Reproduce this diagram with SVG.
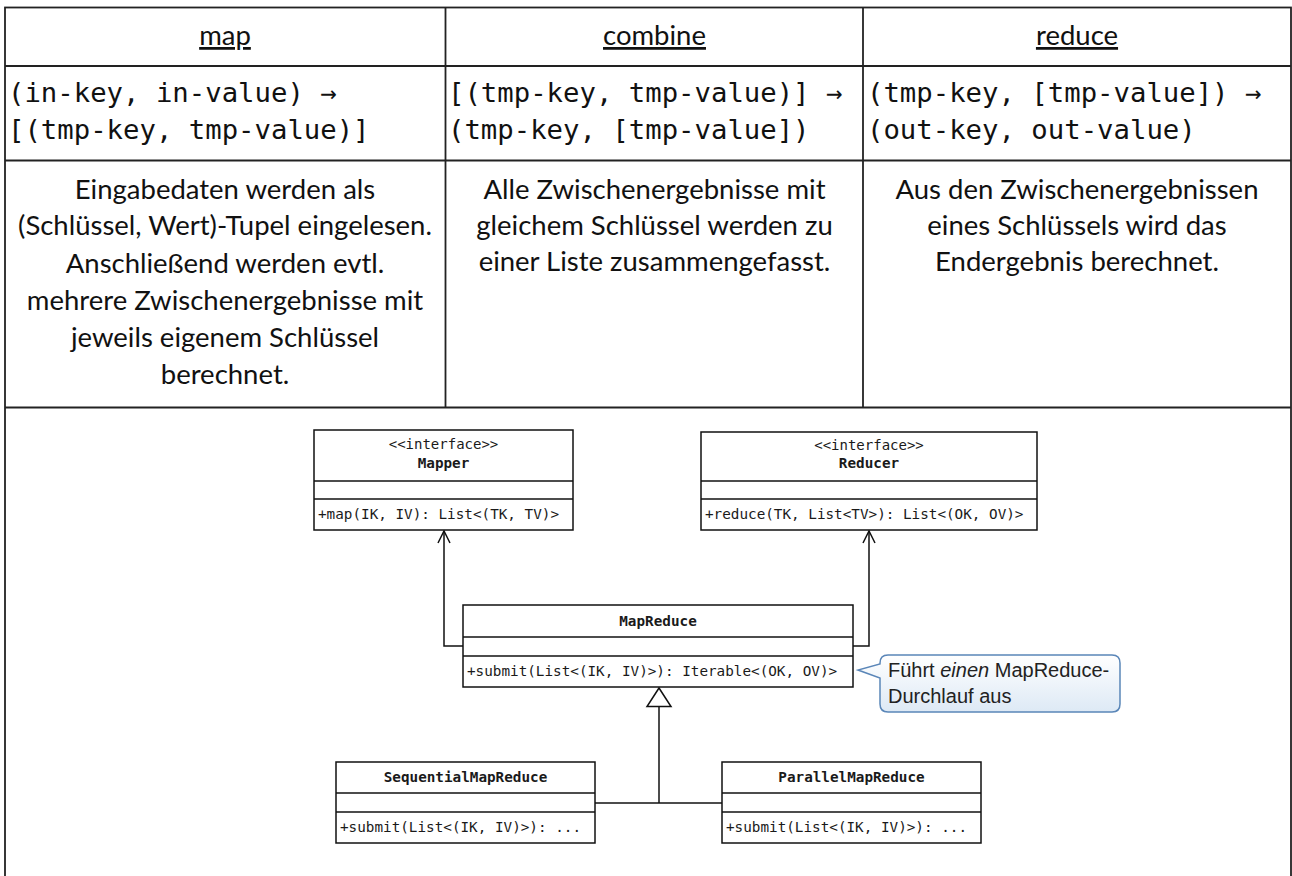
<svg xmlns="http://www.w3.org/2000/svg" width="1292" height="876" viewBox="0 0 1292 876">
<defs>
<style>
.grid{stroke:#222;stroke-width:1.8;fill:none}
.hdr{font-family:Lato,"Liberation Sans",sans-serif;font-size:27.5px;fill:#111;text-anchor:middle;text-decoration:underline}
.code{font-family:"DejaVu Sans Mono",monospace;font-size:27.3px;fill:#111}
.body{font-family:Lato,"Liberation Sans",sans-serif;font-size:27.5px;fill:#111;text-anchor:middle}
.box{fill:#fff;stroke:#111;stroke-width:1.5}
.sep{stroke:#111;stroke-width:1.5}
.um{font-family:"DejaVu Sans Mono",monospace;font-size:14.3px;fill:#1a1a1a}
.umc{font-family:"DejaVu Sans Mono",monospace;font-size:14px;fill:#1a1a1a;text-anchor:middle}
.umb{font-family:"DejaVu Sans Mono",monospace;font-size:14.3px;fill:#1a1a1a;text-anchor:middle;font-weight:bold}
.conn{stroke:#111;stroke-width:1.5;fill:none}
.note{font-family:"Liberation Sans",Arial,sans-serif;font-size:20px;fill:#222}
</style>
<marker id="open" viewBox="0 0 14 14" refX="7" refY="1" markerWidth="14" markerHeight="14" markerUnits="userSpaceOnUse" orient="0">
<path d="M1,13 L7,1 L13,13" fill="none" stroke="#111" stroke-width="1.5"/>
</marker>
<linearGradient id="ng" x1="0" y1="0" x2="0" y2="1">
<stop offset="0" stop-color="#ffffff"/>
<stop offset="1" stop-color="#dde9f5"/>
</linearGradient>
</defs>
<rect width="1292" height="876" fill="#fff"/>
<g id="table">
<rect class="grid" x="5" y="7.5" width="1286" height="900"/>
<line class="grid" x1="5" y1="66" x2="1291" y2="66"/>
<line class="grid" x1="5" y1="160.5" x2="1291" y2="160.5"/>
<line class="grid" x1="5" y1="407.5" x2="1291" y2="407.5"/>
<line class="grid" x1="445.5" y1="7.5" x2="445.5" y2="407.5"/>
<line class="grid" x1="863" y1="7.5" x2="863" y2="407.5"/>
<text class="hdr" x="225" y="45">map</text>
<text class="hdr" x="654.5" y="45">combine</text>
<text class="hdr" x="1077" y="45">reduce</text>
<text class="code" x="8" y="102">(in-key, in-value) →</text>
<text class="code" x="8" y="139">[(tmp-key, tmp-value)]</text>
<text class="code" x="448" y="102">[(tmp-key, tmp-value)] →</text>
<text class="code" x="448" y="139">(tmp-key, [tmp-value])</text>
<text class="code" x="867" y="102">(tmp-key, [tmp-value]) →</text>
<text class="code" x="867" y="139">(out-key, out-value)</text>
<text class="body" x="225" y="199">Eingabedaten werden als</text>
<text class="body" x="225" y="235">(Schlüssel, Wert)-Tupel eingelesen.</text>
<text class="body" x="225" y="273">Anschließend werden evtl.</text>
<text class="body" x="225" y="310">mehrere Zwischenergebnisse mit</text>
<text class="body" x="225" y="347">jeweils eigenem Schlüssel</text>
<text class="body" x="225" y="384">berechnet.</text>
<text class="body" x="654.5" y="199">Alle Zwischenergebnisse mit</text>
<text class="body" x="654.5" y="235">gleichem Schlüssel werden zu</text>
<text class="body" x="654.5" y="271">einer Liste zusammengefasst.</text>
<text class="body" x="1077" y="199">Aus den Zwischenergebnissen</text>
<text class="body" x="1077" y="235">eines Schlüssels wird das</text>
<text class="body" x="1077" y="271">Endergebnis berechnet.</text>
</g>
<g id="connectors">
<path class="conn" d="M463,646 H444 V531" marker-end="url(#open)"/>
<path class="conn" d="M853,646 H869 V531" marker-end="url(#open)"/>
<path class="conn" d="M659,803 V707"/>
<polygon points="659,688 647,706.5 671,706.5" fill="#fff" stroke="#111" stroke-width="1.5"/>
<path class="conn" d="M595,803 H722"/>
</g>
<g id="mapper">
<rect class="box" x="314" y="430" width="259" height="100"/>
<line class="sep" x1="314" y1="481" x2="573" y2="481"/>
<line class="sep" x1="314" y1="499" x2="573" y2="499"/>
<text class="umc" x="443.5" y="449">&lt;&lt;interface&gt;&gt;</text>
<text class="umb" x="443.5" y="468">Mapper</text>
<text class="um" x="318" y="519">+map(IK, IV): List&lt;(TK, TV)&gt;</text>
</g>
<g id="reducer">
<rect class="box" x="701" y="432" width="336" height="98"/>
<line class="sep" x1="701" y1="481" x2="1037" y2="481"/>
<line class="sep" x1="701" y1="499" x2="1037" y2="499"/>
<text class="umc" x="869" y="450">&lt;&lt;interface&gt;&gt;</text>
<text class="umb" x="869" y="468">Reducer</text>
<text class="um" x="705" y="519">+reduce(TK, List&lt;TV&gt;): List&lt;(OK, OV)&gt;</text>
</g>
<g id="mapreduce">
<rect class="box" x="463" y="605" width="390" height="82"/>
<line class="sep" x1="463" y1="637" x2="853" y2="637"/>
<line class="sep" x1="463" y1="656" x2="853" y2="656"/>
<text class="umb" x="658" y="626">MapReduce</text>
<text class="um" x="467" y="676">+submit(List&lt;(IK, IV)&gt;): Iterable&lt;(OK, OV)&gt;</text>
</g>
<g id="note">
<path d="M888,655 H1112 Q1120,655 1120,663 V704 Q1120,712 1112,712 H888 Q880,712 880,704 V678 L858,670 L880,664 V663 Q880,655 888,655 Z" fill="url(#ng)" stroke="#5a86b8" stroke-width="1.5"/>
<text class="note" x="888" y="677">Führt <tspan font-style="italic">einen</tspan> MapReduce-</text>
<text class="note" x="888" y="703">Durchlauf aus</text>
</g>
<g id="sequential">
<rect class="box" x="336" y="762" width="259" height="81"/>
<line class="sep" x1="336" y1="793" x2="595" y2="793"/>
<line class="sep" x1="336" y1="812" x2="595" y2="812"/>
<text class="umb" x="465.5" y="782">SequentialMapReduce</text>
<text class="um" x="340" y="832">+submit(List&lt;(IK, IV)&gt;): ...</text>
</g>
<g id="parallel">
<rect class="box" x="722" y="762" width="259" height="81"/>
<line class="sep" x1="722" y1="793" x2="981" y2="793"/>
<line class="sep" x1="722" y1="812" x2="981" y2="812"/>
<text class="umb" x="851.5" y="782">ParallelMapReduce</text>
<text class="um" x="726" y="832">+submit(List&lt;(IK, IV)&gt;): ...</text>
</g>
</svg>
